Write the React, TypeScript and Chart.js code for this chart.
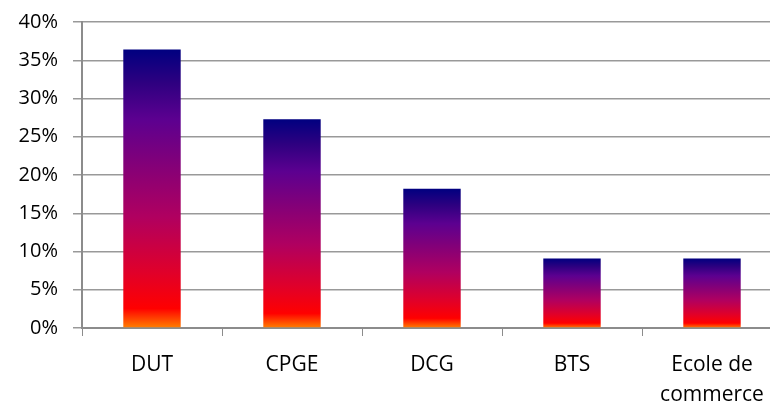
import React, { useEffect, useRef } from "react";
import { Chart, registerables } from "chart.js";

Chart.register(...registerables);

const categories: (string | string[])[] = ["DUT", "CPGE", "DCG", "BTS", ["Ecole de", "commerce"]];
const values: number[] = [36.4, 27.3, 18.2, 9.1, 9.1];
const yTicks: number[] = [0, 5, 10, 15, 20, 25, 30, 35, 40];

const gradientStops: [number, string][] = [
  [0, "#ff8000"],
  [0.07, "#ff0000"],
  [0.2, "#e0002a"],
  [0.4, "#b00060"],
  [0.6, "#80007a"],
  [0.75, "#5c0090"],
  [0.88, "#2e0080"],
  [1, "#000080"],
];

export default function App() {
  const ref = useRef<HTMLCanvasElement>(null);
  useEffect(() => {
    const canvas = ref.current!;
    const chart = new Chart(canvas, {
      type: "bar",
      data: {
        labels: categories,
        datasets: [
          {
            data: values,
            barPercentage: 0.41,
            categoryPercentage: 1,
            borderWidth: 0,
            backgroundColor: (ctx: any) => {
              const c = ctx.chart;
              const y = c.scales.y;
              if (!y || !c.chartArea || ctx.type !== "data") return "#800080";
              const top = y.getPixelForValue(values[ctx.dataIndex]);
              const bottom = y.getPixelForValue(0);
              if (!isFinite(top) || !isFinite(bottom)) return "#800080";
              const g = c.ctx.createLinearGradient(0, bottom, 0, top);
              gradientStops.forEach(([o, col]) => g.addColorStop(o, col));
              return g;
            },
          },
        ],
      },
      options: {
        animation: false,
        responsive: false,
        maintainAspectRatio: false,
        layout: { padding: { top: 22, left: 0, right: 0, bottom: 0 } },
        plugins: { legend: { display: false }, tooltip: { enabled: false } },
        scales: {
          x: {
            offset: true,
            grid: {
              offset: true,
              drawOnChartArea: false,
              drawTicks: true,
              tickLength: 8,
              color: "#8c8c8c",
              lineWidth: 1,
            },
            border: { color: "#8c8c8c", width: 2 },
            ticks: {
              color: "#000",
              font: { family: "'Open Sans', Lato, sans-serif", size: 21, lineHeight: 1.42 },
              padding: 14,
              maxRotation: 0,
              autoSkip: false,
            },
            afterFit: (s: any) => {
              s.height = 80;
            },
          },
          y: {
            min: 0,
            max: 40,
            afterBuildTicks: (s: any) => {
              s.ticks = yTicks.map((v) => ({ value: v }));
            },
            grid: {
              color: "#999",
              lineWidth: 1.5,
              drawTicks: true,
              tickLength: 9,
            },
            border: { color: "#8c8c8c", width: 2 },
            ticks: {
              color: "#000",
              font: { family: "'Open Sans', Lato, sans-serif", size: 20, lineHeight: 0.6 },
              padding: 15,
              callback: (v: any) => v + "%",
            },
            afterFit: (s: any) => {
              s.width = 82;
            },
          },
        },
      },
    });
    chart.update();
    return () => chart.destroy();
  }, []);
  return (
    <div style={{ position: "fixed", left: 0, top: 0, width: 770, height: 408, overflow: "hidden", background: "#fff" }}>
      <canvas ref={ref} width={782} height={408} style={{ width: 782, height: 408, display: "block" }} />
    </div>
  );
}
